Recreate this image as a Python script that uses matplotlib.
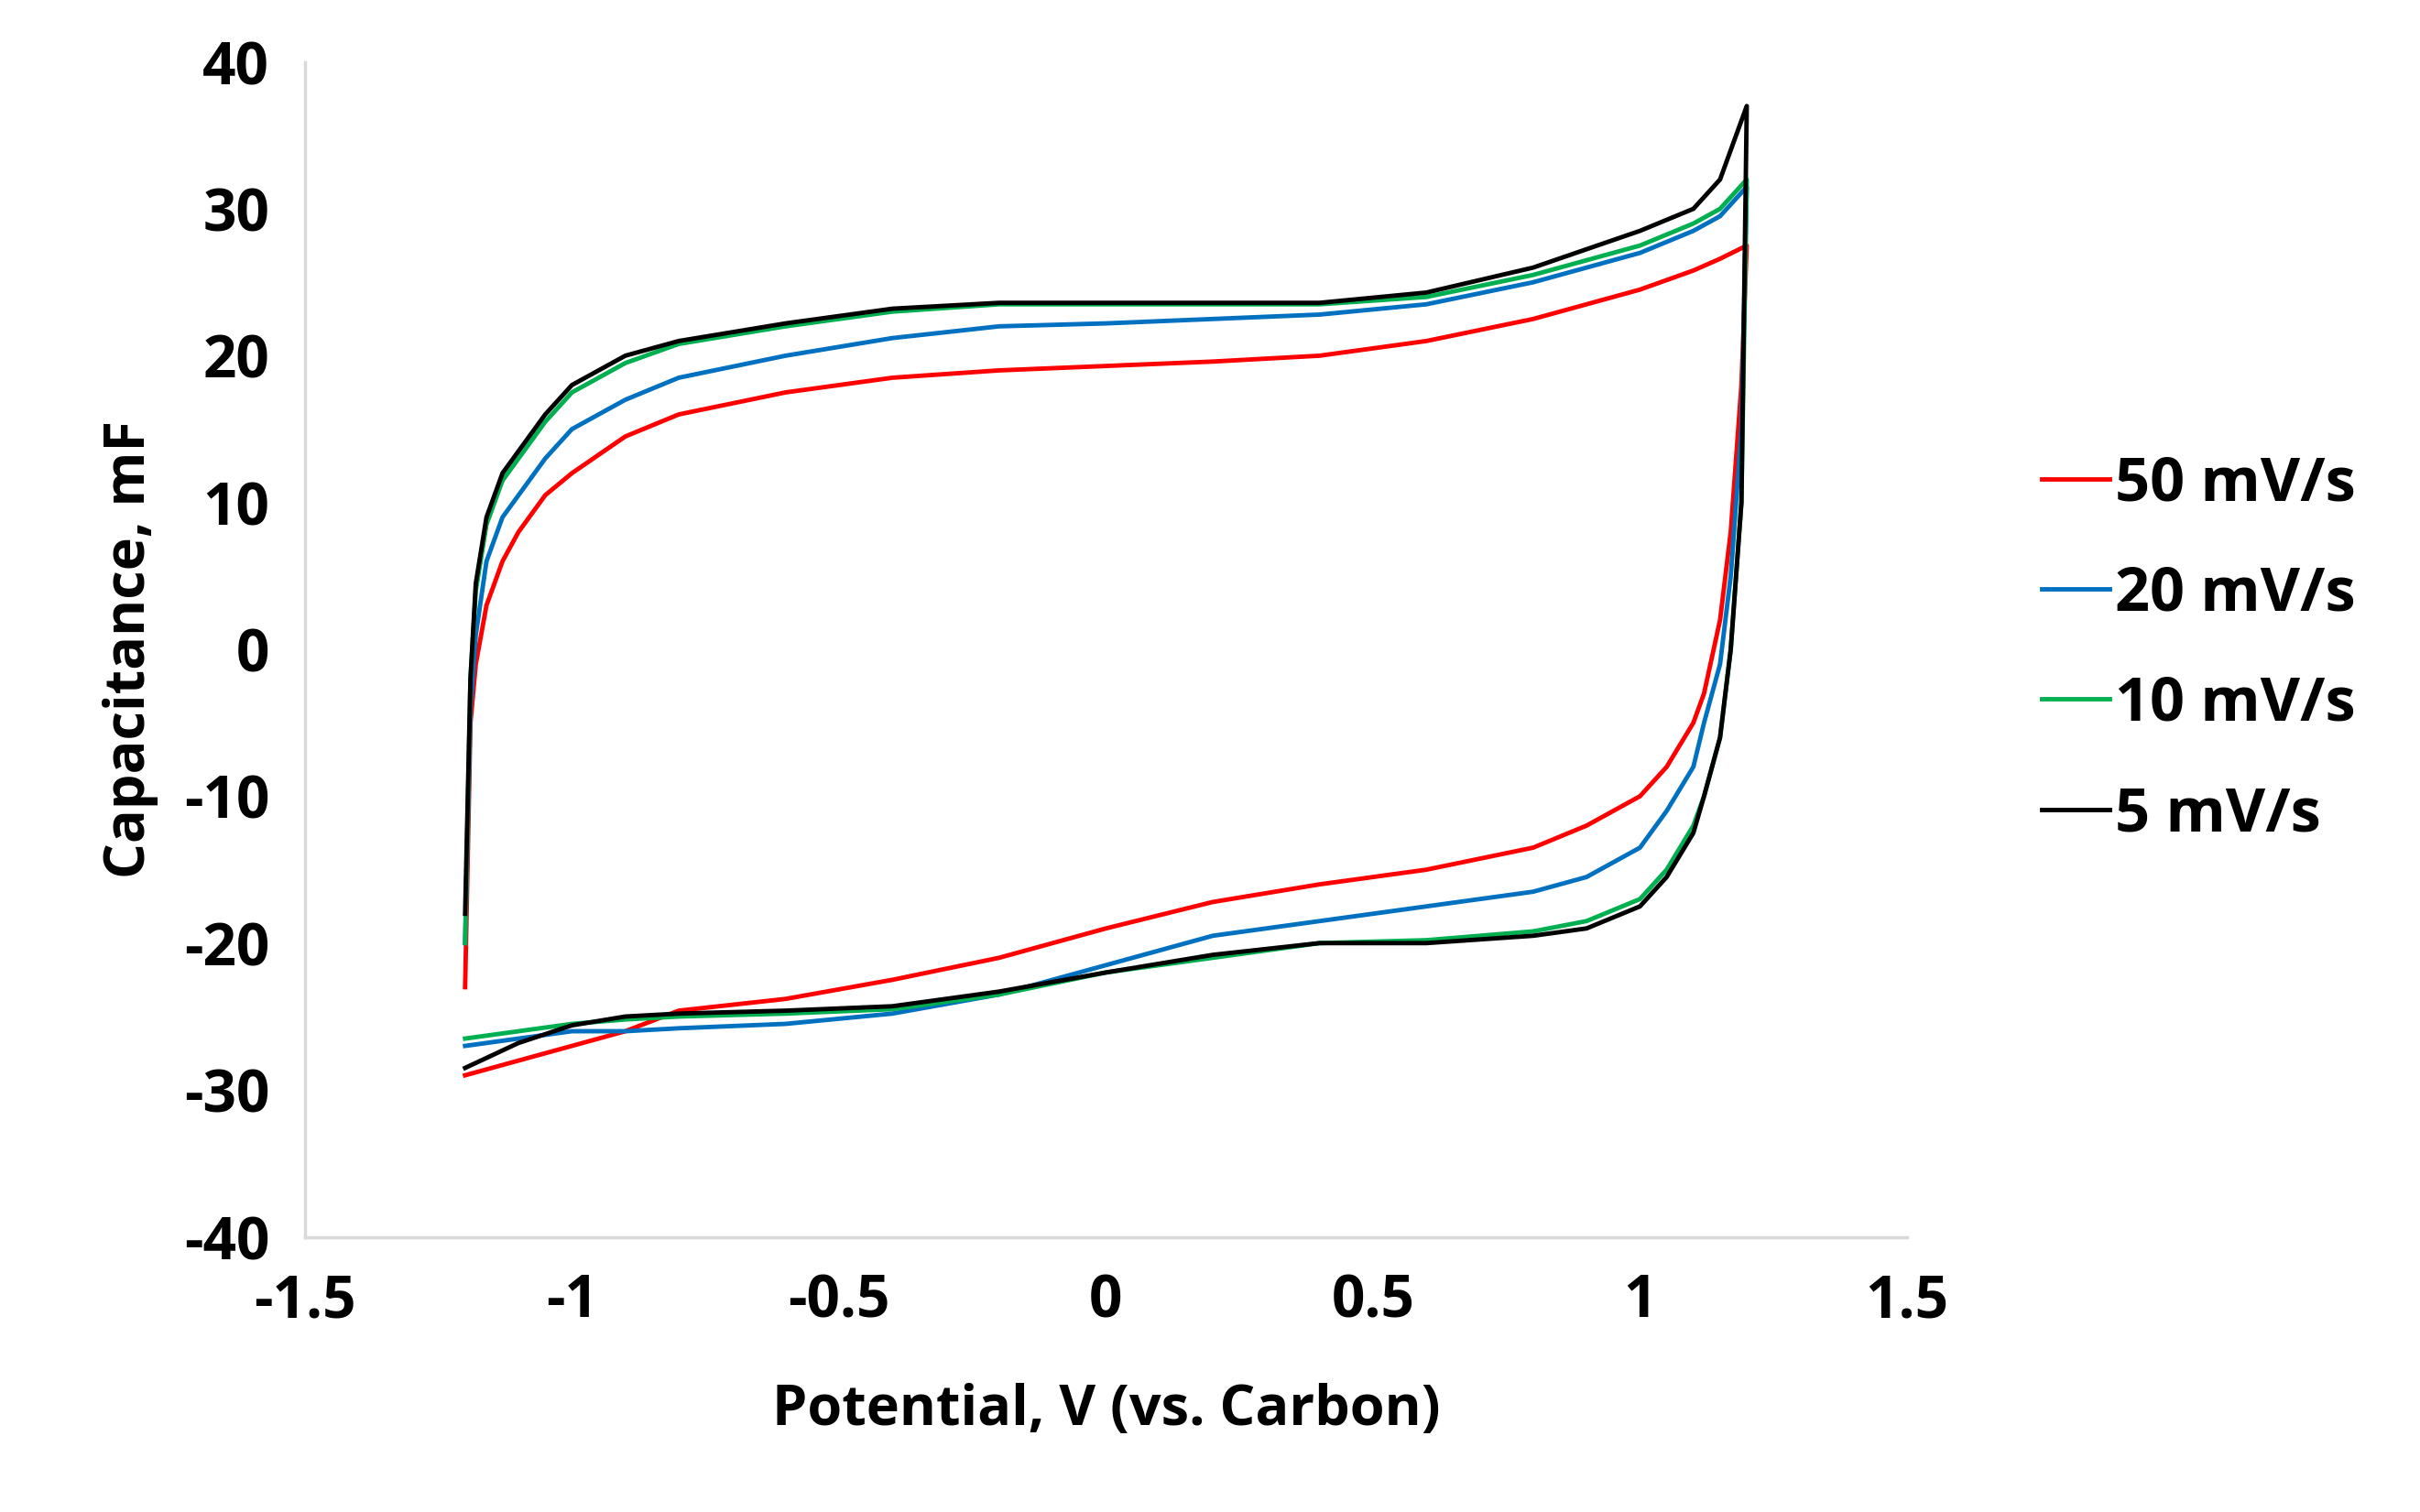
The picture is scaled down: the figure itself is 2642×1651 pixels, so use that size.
import matplotlib
matplotlib.use("Agg")
import matplotlib.pyplot as plt

plt.rcParams['font.family'] = ['Open Sans', 'DejaVu Sans']
plt.rcParams['font.weight'] = 'bold'
plt.rcParams['axes.unicode_minus'] = False

labels = ["50 mV/s", "20 mV/s", "10 mV/s", "5 mV/s"]
colors = ["#ff0000", "#0070c0", "#00b050", "#000000"]

x_up = [-1.2, -1.19, -1.18, -1.16, -1.13, -1.1, -1.05, -1.0, -0.9, -0.8, -0.6, -0.4, -0.2, 0.0, 0.2, 0.4, 0.6, 0.8, 1.0, 1.1, 1.15, 1.2]
x_dn = [1.2, 1.19, 1.17, 1.15, 1.12, 1.1, 1.05, 1.0, 0.9, 0.8, 0.6, 0.4, 0.2, 0.0, -0.2, -0.4, -0.6, -0.8, -0.9, -1.0, -1.1, -1.2]

red_up   = [-23, -5, -1, 3, 6, 8, 10.5, 12, 14.5, 16, 17.5, 18.5, 19, 19.3, 19.6, 20, 21, 22.5, 24.5, 25.8, 26.6, 27.5]
red_dn   = [27.5, 18, 8, 2, -3, -5, -8, -10, -12, -13.5, -15, -16, -17.2, -19, -21, -22.5, -23.8, -24.6, -26, -27, -28, -29]
blue_up  = [-20, -4, 1, 6, 9, 10.5, 13, 15, 17, 18.5, 20, 21.2, 22, 22.2, 22.5, 22.8, 23.5, 25, 27, 28.5, 29.5, 31.5]
blue_dn  = [31.5, 15, 5, -1, -5, -8, -11, -13.5, -15.5, -16.5, -17.5, -18.5, -19.5, -21.5, -23.5, -24.8, -25.5, -25.8, -26, -26, -26.5, -27]
green_up = [-20, -2, 4, 8.5, 11.5, 13, 15.5, 17.5, 19.5, 20.8, 22, 23, 23.5, 23.5, 23.5, 23.5, 24, 25.5, 27.5, 29, 30, 32]
green_dn = [32, 10, 0, -6, -10, -12, -15, -17, -18.5, -19.2, -19.8, -20, -21, -22, -23.5, -24.5, -24.8, -25, -25.2, -25.5, -26, -26.5]
black_up = [-18, -2, 4.5, 9, 12, 13.5, 16, 18, 20, 21, 22.2, 23.2, 23.6, 23.6, 23.6, 23.6, 24.3, 26, 28.5, 30, 32, 37]
black_dn = [37, 10, 0, -6, -10, -12.5, -15.5, -17.5, -19, -19.5, -20, -20, -20.8, -22, -23.3, -24.3, -24.6, -24.8, -25, -25.6, -26.8, -28.5]

ups = [red_up, blue_up, green_up, black_up]
dns = [red_dn, blue_dn, green_dn, black_dn]

fig = plt.figure(figsize=(26.42, 16.51), dpi=100)
ax = fig.add_axes([0.126, 0.182, 0.662, 0.777])
for lab, c, u, d in zip(labels, colors, ups, dns):
    ax.plot(x_up + x_dn, u + d, color=c, lw=3.5, label=lab)

ax.set_xlim(-1.5, 1.5)
ax.set_ylim(-40, 40)
ax.set_xticks([-1.5, -1, -0.5, 0, 0.5, 1, 1.5])
ax.set_xticklabels(["-1.5", "-1", "-0.5", "0", "0.5", "1", "1.5"])
ax.set_yticks(range(-40, 41, 10))
ax.set_yticklabels([str(v) for v in range(-40, 41, 10)])
ax.tick_params(length=0, labelsize=46, pad=28)
for s in ["top", "right"]:
    ax.spines[s].set_visible(False)
for s in ["left", "bottom"]:
    ax.spines[s].set_color("#d9d9d9")
    ax.spines[s].set_linewidth(2.5)
ax.set_xlabel("Potential, V (vs. Carbon)", fontsize=44, fontweight='bold', labelpad=40)
ax.set_ylabel("Capacitance, mF", fontsize=44, fontweight='bold', labelpad=20)
leg = ax.legend(loc='center left', bbox_to_anchor=(1.05, 0.5), frameon=False, fontsize=48,
                handlelength=1.1, handletextpad=0.1, labelspacing=0.8)
for t in leg.get_texts():
    t.set_fontweight('bold')
fig.savefig("out.png", dpi=100)
